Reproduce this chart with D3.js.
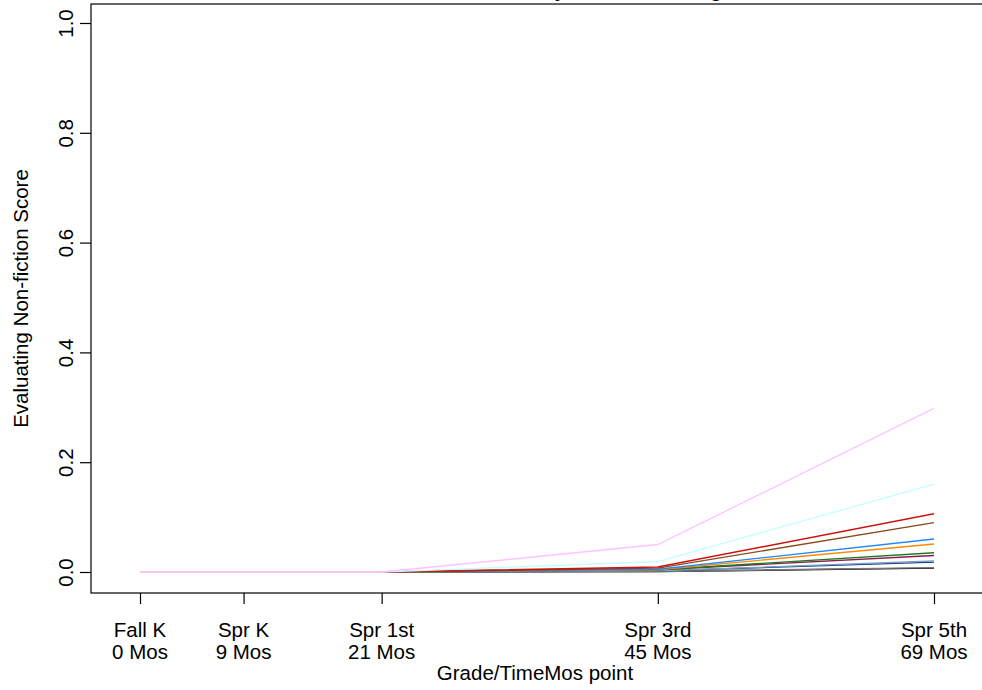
<!DOCTYPE html>
<html>
<head>
<meta charset="utf-8">
<script src="https://cdn.jsdelivr.net/npm/d3@7"></script>
<style>
  html, body { margin: 0; padding: 0; background: #fff; overflow: hidden; }
  svg { display: block; font-family: "Liberation Sans", Arial, Helvetica, sans-serif; }
</style>
</head>
<body>
<svg id="chart" width="982" height="690"></svg>
<script>
// ---- data ----
const months = [0, 9, 21, 45, 69];
const gradeLabels = ["Fall K", "Spr K", "Spr 1st", "Spr 3rd", "Spr 5th"];
const monthLabels = ["0 Mos", "9 Mos", "21 Mos", "45 Mos", "69 Mos"];
const yTicks = [0, 0.2, 0.4, 0.6, 0.8, 1.0];

const seriesNames = ["black", "gray", "navy", "steel", "maroon", "green", "orange", "blue", "brown", "red", "cyan", "pink"];
const seriesColors = ["#000000", "#777777", "#0b3d7a", "#7f9fc8", "#8b1a4a", "#1f7a1f", "#ff8c00", "#1e88ff", "#8b4a1a", "#cc1111", "#c4ffff", "#ffc4ff"];
const sBlack  = [0, 0, 0, 0.001, 0.007];
const sGray   = [0, 0, 0, 0.001, 0.008];
const sNavy   = [0, 0, 0, 0.002, 0.018];
const sSteel  = [0, 0, 0, 0.002, 0.020];
const sMaroon = [0, 0, 0, 0.004, 0.030];
const sGreen  = [0, 0, 0, 0.004, 0.035];
const sOrange = [0, 0, 0, 0.004, 0.051];
const sBlue   = [0, 0, 0, 0.005, 0.060];
const sBrown  = [0, 0, 0, 0.007, 0.090];
const sRed    = [0, 0, 0, 0.009, 0.106];
const sCyan   = [0, 0, 0, 0.019, 0.160];
const sPink   = [0, 0, 0, 0.050, 0.298];
const seriesValues = [sBlack, sGray, sNavy, sSteel, sMaroon, sGreen, sOrange, sBlue, sBrown, sRed, sCyan, sPink];

const titleText = "Latent Class Means by Student Reading";
const xLabel = "Grade/TimeMos point";
const yLabel = "Evaluating Non-fiction Score";

// ---- layout ----
const box = { left: 91, right: 983, top: 4, bottom: 593 };
const fs = 20.5;
const svg = d3.select("#chart");

const x = d3.scaleLinear().domain([0, 69]).range([140, 934]);
const y = d3.scaleLinear().domain([0, 1]).range([572, 23]);

// lines
const line = d3.line().x((d, i) => x(months[i])).y(d => y(d));
const g = svg.append("g");
seriesValues.forEach((vals, k) => {
  g.append("path")
    .datum(vals)
    .attr("d", line)
    .attr("fill", "none")
    .attr("stroke", seriesColors[k])
    .attr("stroke-width", 1.4);
});

// frame
svg.append("rect")
  .attr("x", box.left).attr("y", box.top)
  .attr("width", box.right - box.left).attr("height", box.bottom - box.top)
  .attr("fill", "none").attr("stroke", "#000").attr("stroke-width", 1.2);

// x axis
const xAxis = d3.axisBottom(x).tickValues(months).tickFormat("").tickSizeOuter(0).tickSize(11);
const xg = svg.append("g").attr("transform", `translate(0,${box.bottom})`).call(xAxis);
xg.select(".domain").remove();
xg.selectAll(".tick line").attr("stroke", "#000").attr("stroke-width", 1.2);
months.forEach((m, i) => {
  const t = svg.append("text")
    .attr("x", x(m)).attr("text-anchor", "middle")
    .attr("font-size", fs).attr("fill", "#000");
  t.append("tspan").attr("x", x(m)).attr("y", 637).text(gradeLabels[i]);
  t.append("tspan").attr("x", x(m)).attr("y", 659).text(monthLabels[i]);
});

// y axis
const yAxis = d3.axisLeft(y).tickValues(yTicks).tickFormat(d3.format(".1f")).tickSizeOuter(0).tickSize(11);
const yg = svg.append("g").attr("transform", `translate(${box.left},0)`).call(yAxis);
yg.select(".domain").remove();
yg.selectAll(".tick line").attr("stroke", "#000").attr("stroke-width", 1.2);
yg.selectAll(".tick text")
  .attr("x", null).attr("dy", null)
  .attr("font-size", fs).attr("font-family", "Liberation Sans, Arial, sans-serif")
  .attr("fill", "#000")
  .attr("text-anchor", "middle")
  .attr("transform", "translate(-18,0) rotate(-90)");

// axis titles
svg.append("text")
  .attr("x", (box.left + box.right) / 2 - 2).attr("y", 680)
  .attr("text-anchor", "middle").attr("font-size", fs).text(xLabel);
svg.append("text")
  .attr("transform", `translate(28,${(box.top + box.bottom) / 2}) rotate(-90)`)
  .attr("text-anchor", "middle").attr("font-size", fs).text(yLabel);

// title (mostly clipped at top, as in reference)
svg.append("text")
  .attr("x", (box.left + box.right) / 2 + 4).attr("y", -3)
  .attr("text-anchor", "middle").attr("font-size", 19).attr("font-weight", "bold").text(titleText);
</script>
</body>
</html>
